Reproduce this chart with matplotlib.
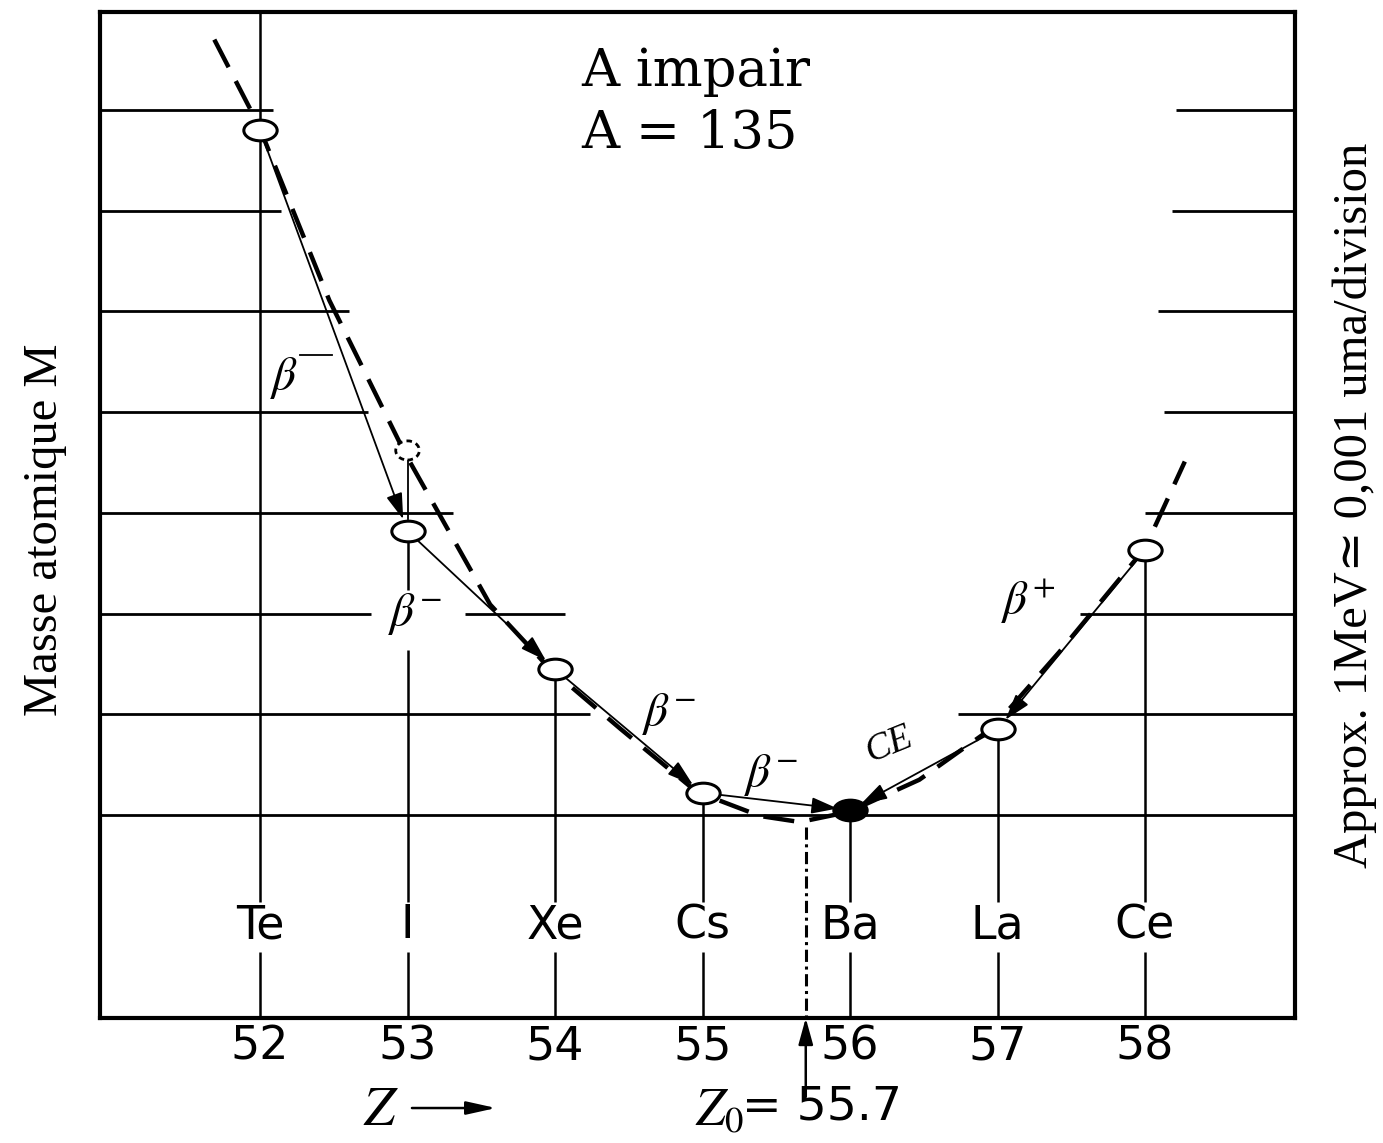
import matplotlib
matplotlib.use('Agg')
import matplotlib.pyplot as plt
from matplotlib.path import Path
from matplotlib.patches import Ellipse

# isobares A = 135 (masse en divisions au-dessus du niveau de Ba)
z_values = [52, 53, 54, 55, 56, 57, 58]
symbols = ['Te', 'I', 'Xe', 'Cs', 'Ba', 'La', 'Ce']
masses = [6.80, 2.82, 1.45, 0.22, 0.05, 0.85, 2.63]
stable = [False, False, False, False, True, False, False]

isomer_z = 53
isomer_mass = 3.62

# parabole de masse
curve_z = [51.69, 51.99, 52.47, 52.98, 53.56, 53.96, 54.44, 54.96,
           55.39, 55.66, 55.99, 56.47, 56.97, 57.42, 58.00, 58.27]
curve_m = [7.70, 6.85, 5.11, 3.60, 2.09, 1.46, 0.86, 0.23,
           -0.01, -0.07, 0.03, 0.35, 0.87, 1.62, 2.65, 3.51]

# desintegrations: (parent, fille, type)
decays = [(0, 1, r'$\beta^{-}$'), (1, 2, r'$\beta^{-}$'), (2, 3, r'$\beta^{-}$'),
          (3, 4, r'$\beta^{-}$'), (5, 4, 'CE'), (6, 5, r'$\beta^{+}$')]

z0 = 55.7

plt.rcParams['mathtext.fontset'] = 'stix'

fig = plt.figure(figsize=(13.83, 11.43), dpi=100)
ax = fig.add_axes([100 / 1383, 125 / 1143, 1195 / 1383, 1006 / 1143])
ax.set_xlim(50.915, 59.017)
ax.set_ylim(-2.016, 7.974)
for s in ax.spines.values():
    s.set_linewidth(3)
ax.set_yticks([])
ax.set_xticks(z_values)
ax.set_xticklabels([str(z) for z in z_values], fontsize=33, family='DejaVu Sans')
ax.tick_params(axis='x', length=0, pad=5)

# grille horizontale en morceaux (comme l'original)
x_lo, x_hi = ax.get_xlim()
grid_segments = {
    7: [(x_lo, 52.09), (58.21, x_hi)],
    6: [(x_lo, 52.14), (58.18, x_hi)],
    5: [(x_lo, 52.60), (58.09, x_hi)],
    4: [(x_lo, 52.73), (58.13, x_hi)],
    3: [(x_lo, 53.31), (58.00, x_hi)],
    2: [(x_lo, 52.75), (53.39, 54.07), (57.56, x_hi)],
    1: [(x_lo, 54.24), (56.73, x_hi)],
    0: [(x_lo, x_hi)],
}
for level, segs in grid_segments.items():
    for a, b in segs:
        ax.plot([a, b], [level, level], color='black', lw=2, solid_capstyle='butt')

# lignes verticales sous chaque noyau, coupees par le symbole
y_bot, y_top = ax.get_ylim()
gap_lo, gap_hi = -1.36, -0.86
for i, z in enumerate(z_values):
    top = y_top if i == 0 else masses[i]
    pieces = [(y_bot, gap_lo), (gap_hi, top)]
    if symbols[i] == 'I':
        pieces = [(y_bot, gap_lo), (gap_hi, 1.64), (2.23, top)]
    for a, b in pieces:
        ax.plot([z, z], [a, b], color='black', lw=1.8, solid_capstyle='butt')
    ax.text(z, -1.10, symbols[i], ha='center', va='center', fontsize=33,
            family='DejaVu Sans')

# parabole en tirets
ax.plot(curve_z, curve_m, color='black', lw=3.2, dashes=(7, 3.5), zorder=3)

# fleches de desintegration
for p, d, lab in decays:
    ax.annotate('', xy=(z_values[d], masses[d]), xytext=(z_values[p], masses[p]),
                arrowprops=dict(arrowstyle='-|>,head_length=0.8,head_width=0.25',
                                mutation_scale=20, color='black', lw=1.3,
                                shrinkA=9, shrinkB=9), zorder=4)

# etiquettes des desintegrations
ax.text(52.16, 4.34, r'$\beta$', fontsize=34, ha='center', va='center')
ax.plot([52.27, 52.49], [4.57, 4.57], color='black', lw=1.3)
ax.text(53.05, 2.00, decays[1][2], fontsize=34, ha='center', va='center')
ax.text(54.77, 1.00, decays[2][2], fontsize=34, ha='center', va='center')
ax.text(55.46, 0.40, decays[3][2], fontsize=34, ha='center', va='center')
ax.text(56.27, 0.70, decays[4][2], fontsize=27, ha='center', va='center',
        family='Liberation Serif', style='italic', rotation=22)
ax.text(57.21, 2.12, decays[5][2], fontsize=34, ha='center', va='center')

# etat isomere
ax.plot([isomer_z, isomer_z], [masses[1] + 0.12, isomer_mass - 0.1], color='black', lw=1.3)
ax.add_patch(Ellipse((isomer_z, isomer_mass), 0.16, 0.19, facecolor='white',
                     edgecolor='black', lw=2, ls=(0, (2, 1.5)), zorder=5))

# noyaux (ellipses)
circ = Path.unit_circle()
ell = Path(circ.vertices * [1.0, 0.62], circ.codes)
for z, m, st in zip(z_values, masses, stable):
    ax.plot(z, m, marker=ell, ms=24, mfc='black' if st else 'white',
            mec='black', mew=2.2, ls='none', zorder=6)

# Z0
ax.plot([z0, z0], [-0.12, y_bot], color='black', lw=2.2, dashes=(4, 1.5, 1, 1.5), zorder=2)
ax.annotate('', xy=(z0, y_bot), xytext=(z0, -2.80), annotation_clip=False,
            arrowprops=dict(arrowstyle='-|>,head_length=0.8,head_width=0.22',
                            mutation_scale=20, color='black', lw=1.8, shrinkA=0, shrinkB=0))
ax.text(z0 - 0.42, -2.93, r'$Z_0$', fontsize=38, ha='right', va='center', clip_on=False)
ax.text(z0 - 0.43, -2.90, '= 55.7', fontsize=34, ha='left', va='center',
        family='DejaVu Sans', clip_on=False)

# Z ->
ax.text(52.82, -2.93, r'$Z$', fontsize=40, ha='center', va='center', clip_on=False)
ax.annotate('', xy=(53.60, -2.91), xytext=(53.03, -2.91), annotation_clip=False,
            arrowprops=dict(arrowstyle='-|>,head_length=0.9,head_width=0.2',
                            mutation_scale=20, color='black', lw=1.8, shrinkA=0, shrinkB=0))

# titre dans le cadre
ax.text(54.18, 7.38, 'A impair', fontsize=38, family='DejaVu Serif', ha='left', va='center')
ax.text(54.18, 6.77, 'A = 135', fontsize=38, family='DejaVu Serif', ha='left', va='center')

fig.text(45 / 1383, 1 - 530 / 1143, 'Masse atomique M', rotation=90, fontsize=35,
         family='Liberation Serif', ha='center', va='center')
fig.text(1355 / 1383, 1 - 505 / 1143, 'Approx. 1MeV\u2243 0,001 uma/division', rotation=90,
         fontsize=35, family=['Liberation Serif', 'DejaVu Serif'], ha='center', va='center')

fig.savefig('out.png', dpi=100)
